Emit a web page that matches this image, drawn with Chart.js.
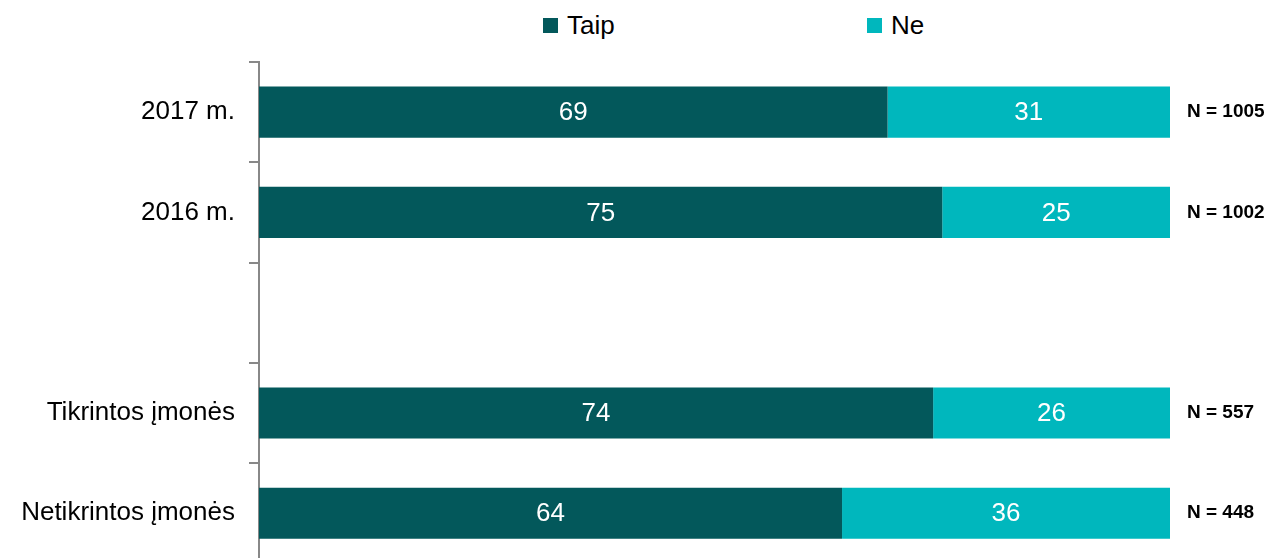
<!DOCTYPE html>
<html>
<head>
<meta charset="utf-8">
<script src="https://cdn.jsdelivr.net/npm/chart.js@4.4.0/dist/chart.umd.min.js"></script>
<style>
  html, body { margin: 0; padding: 0; background: #fff; overflow: hidden; }
  #wrap { position: relative; width: 1274px; height: 558px; overflow: hidden; }
  #chart { position: absolute; left: 0; top: 0; }
  .legend { position: absolute; top: 10px; font: 26px "Liberation Sans", Arial, sans-serif; color: #000; display: flex; align-items: center; }
  .legend span.sw { display: inline-block; width: 15px; height: 15px; margin-right: 9px; }
</style>
</head>
<body>
<div id="wrap">
  <div class="legend" style="left:543px"><span class="sw" style="background:#03585B"></span>Taip</div>
  <div class="legend" style="left:867px"><span class="sw" style="background:#00B7BD"></span>Ne</div>
  <canvas id="chart" width="1274" height="593"></canvas>
</div>
<script>
const categories = ['2017 m.', '2016 m.', '', 'Tikrintos įmonės', 'Netikrintos įmonės'];
const taipValues = [69, 75, null, 74, 64];
const neValues = [31, 25, null, 26, 36];
const sampleLabels = ['N = 1005', 'N = 1002', '', 'N = 557', 'N = 448'];

const FONT = '"Liberation Sans", Arial, sans-serif';

const barLabels = {
    id: 'barLabels',
    afterDatasetsDraw(chart) {
        const ctx = chart.ctx;
        ctx.save();
        ctx.textBaseline = 'middle';
        chart.data.datasets.forEach((ds, i) => {
            const meta = chart.getDatasetMeta(i);
            meta.data.forEach((bar, j) => {
                if (ds.data[j] == null) return;
                const p = bar.getProps(['x', 'y', 'base'], true);
                ctx.fillStyle = '#fff';
                ctx.font = '26px ' + FONT;
                ctx.textAlign = 'center';
                ctx.fillText(ds.data[j], (p.x + p.base) / 2, p.y + 1);
            });
        });
        const last = chart.getDatasetMeta(1);
        ctx.fillStyle = '#000';
        ctx.font = 'bold 19px ' + FONT;
        ctx.textAlign = 'left';
        last.data.forEach((bar, j) => {
            if (!sampleLabels[j]) return;
            ctx.fillText(sampleLabels[j], chart.chartArea.right + 17, bar.y);
        });
        ctx.restore();
    }
};

new Chart(document.getElementById('chart'), {
    type: 'bar',
    data: {
        labels: categories,
        datasets: [
            { label: 'Taip', data: taipValues, backgroundColor: '#03585B' },
            { label: 'Ne', data: neValues, backgroundColor: '#00B7BD' }
        ]
    },
    options: {
        indexAxis: 'y',
        responsive: false,
        animation: false,
        maintainAspectRatio: false,
        layout: { padding: { top: 62, right: 104, bottom: 0, left: 0 } },
        datasets: { bar: { categoryPercentage: 1, barPercentage: 0.51 } },
        scales: {
            x: {
                stacked: true, min: 0, max: 100, display: false
            },
            y: {
                stacked: true,
                afterFit(scale) { scale.width = 259; },
                grid: { drawOnChartArea: false, drawTicks: true, tickLength: 10, color: '#888', lineWidth: 2, offset: true },
                border: { color: '#888', width: 2 },
                ticks: { color: '#000', font: { size: 26, family: FONT }, padding: 14 }
            }
        },
        plugins: { legend: { display: false }, tooltip: { enabled: false } }
    },
    plugins: [barLabels]
});
</script>
</body>
</html>
